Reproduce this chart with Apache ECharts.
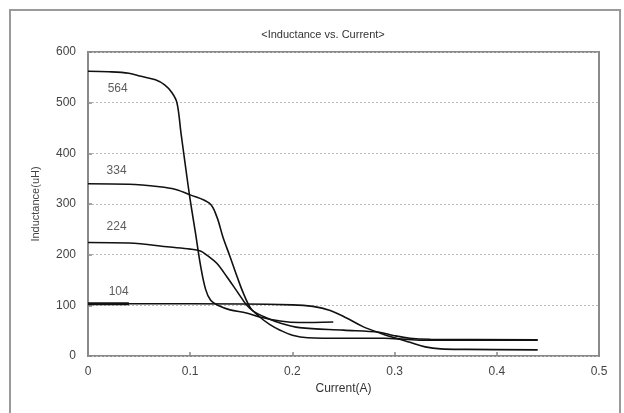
<!DOCTYPE html>
<html>
<head>
<meta charset="utf-8">
<script src="https://cdn.jsdelivr.net/npm/echarts@6/dist/echarts.min.js"></script>
<style>html,body{margin:0;padding:0;background:#fff}#c{width:624px;height:413px}</style>
</head>
<body>
<div id="c"></div>
<script>
// Data
var titleText = '<Inductance vs. Current>';
var xName = 'Current(A)';
var yName = 'Inductance(uH)';

var s564 = [[0,562],[0.02,561],[0.04,558],[0.052,552],[0.066,545],[0.075,535],[0.082,520],[0.087,500],[0.091,440],[0.095,380],[0.1,308],[0.105,245],[0.11,180],[0.115,132],[0.12,110],[0.127,100],[0.139,91],[0.155,85],[0.168,77],[0.188,69],[0.207,66],[0.24,67]];
var s334 = [[0,340],[0.04,339],[0.07,334],[0.085,329],[0.1,318],[0.119,301],[0.126,275],[0.132,235],[0.139,196],[0.146,156],[0.152,124],[0.159,95],[0.168,77],[0.178,62],[0.188,51],[0.2,41],[0.215,36],[0.25,35],[0.29,35],[0.31,33],[0.33,31],[0.44,31]];
var s224 = [[0,224],[0.04,223],[0.08,215],[0.1,211],[0.11,207],[0.117,198],[0.126,183],[0.136,156],[0.146,127],[0.155,101],[0.162,88],[0.175,75],[0.188,65],[0.207,56],[0.25,51],[0.285,47],[0.3,40],[0.315,35],[0.335,33],[0.44,32]];
var s104 = [[0,103],[0.04,103],[0.1,103],[0.2,101],[0.22,98],[0.237,90],[0.253,75],[0.269,58],[0.286,45],[0.3,36],[0.315,27],[0.33,18],[0.345,14],[0.37,13],[0.44,12]];
var s104bold = [[0,103],[0.04,103]];

var labelTexts = ['564','334','224','104'];
var labelX = [0.029,0.028,0.028,0.030];
var labelY = [528,365,256,126];

var xTicks = [0,0.1,0.2,0.3,0.4,0.5];
var yTicks = [0,100,200,300,400,500,600];

var chart = echarts.init(document.getElementById('c'));
function mk(name, data, w){
  return {type:'line', name:name, data:data, showSymbol:false, symbol:'none',
    smooth:0.35,
    lineStyle:{color:'#111', width:w||1.6}, z:3, silent:true};
}
var series = [mk('564', s564), mk('334', s334), mk('224', s224), mk('104', s104), mk('104b', s104bold, 3)];
series.push({
  type:'scatter', name:'labels', symbolSize:0, silent:true,
  data: labelTexts.map(function(t,i){ return {value:[labelX[i], labelY[i]], name:t}; }),
  label:{show:true, position:'inside', formatter:function(p){return p.name;}, color:'#333', fontSize:12, fontFamily:'Liberation Sans, Arial, sans-serif'}
});

chart.setOption({
  animation:false,
  backgroundColor:'#fff',
  title:{text:titleText, left:318, top:24, textAlign:'center',
    textStyle:{fontSize:11, fontWeight:'normal', color:'#333', fontFamily:'Liberation Sans, Arial, sans-serif'}},
  graphic:[{type:'rect', shape:{x:10,y:10,width:610,height:420}, style:{fill:'none', stroke:'#9a9a9a', lineWidth:2}, silent:true, z:-1}],
  grid:{left:88, right:25, top:52, bottom:57, show:true, borderColor:'#8a8a8a', borderWidth:2, backgroundColor:'transparent'},
  xAxis:{type:'value', min:0, max:0.5, interval:0.1,
    name:xName, nameLocation:'middle', nameGap:24,
    nameTextStyle:{fontSize:12, color:'#333', fontFamily:'Liberation Sans, Arial, sans-serif'},
    axisLine:{show:false},
    axisTick:{show:true, inside:true, length:4, lineStyle:{color:'#888', width:1.5}},
    splitLine:{show:false},
    axisLabel:{margin:10, fontSize:12, color:'#444', fontFamily:'Liberation Sans, Arial, sans-serif', formatter:function(v){return String(+v.toFixed(1));}}
  },
  yAxis:{type:'value', min:0, max:600, interval:100,
    name:yName, nameLocation:'middle', nameGap:47, nameRotate:90,
    nameTextStyle:{fontSize:11, color:'#444', fontFamily:'Liberation Sans, Arial, sans-serif'},
    axisLine:{show:false},
    axisTick:{show:true, inside:true, length:4, lineStyle:{color:'#888', width:1.5}},
    splitLine:{show:true, lineStyle:{color:'#bbb', type:[2,2], width:1}},
    axisLabel:{margin:12, fontSize:12, color:'#444', fontFamily:'Liberation Sans, Arial, sans-serif'}
  },
  series:series
});
</script>
</body>
</html>
